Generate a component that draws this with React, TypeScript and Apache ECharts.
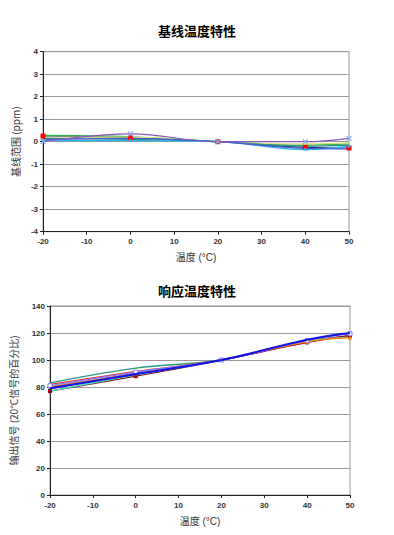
import React, { useEffect, useRef } from "react";
import * as echarts from "echarts";

const temps = [-20, 0, 20, 40, 50];

const baseTitle = "基线温度特性";
const baseYName = "基线范围 (ppm)";
const respTitle = "响应温度特性";
const respYName = "输出信号 (20°C信号的百分比)";
const xName = "温度 (°C)";

const baseNames = ["B1", "B2", "B3", "B4", "B5", "B6", "B7"];
const baseColors = ["#8a55b8", "#1c2a8c", "#2fb24e", "#d2e07a", "#2a8a8a", "#22b8e6", "#4a5fd0"];
const baseValues = [
  [0.0, 0.35, 0, 0.0, 0.15],
  [0.25, 0.18, 0, -0.25, -0.28],
  [0.28, 0.22, 0, -0.15, -0.1],
  [0.2, 0.2, 0, -0.1, -0.05],
  [0.15, 0.1, 0, -0.2, -0.15],
  [0.05, 0.05, 0, -0.35, -0.2],
  [0.1, 0.15, 0, -0.3, -0.32],
];

const respNames = ["R1", "R2", "R3", "R4", "R5", "R6", "R7", "R8"];
const respColors = ["#2a9a8a", "#e03030", "#e020e0", "#8b1010", "#40e0c0", "#ff8000", "#8080ff", "#1414e6"];
const respValues = [
  [83, 94, 100, 114, 117],
  [82, 91.5, 100, 114, 118],
  [80, 90, 100, 113, 118],
  [77, 88, 100, 113, 118],
  [77, 89, 100, 114, 117],
  [80, 90, 100, 113.5, 116.5],
  [81, 91, 100, 114.5, 119.5],
  [79, 89.5, 100, 115, 120],
];

const xPath = "path://M0,0L10,10M10,0L0,10";

export default function App() {
  const ref = useRef<HTMLDivElement>(null);
  useEffect(() => {
    if (!ref.current) return;
    const chart = echarts.init(ref.current, null, { renderer: "svg" });
    const axisLabel = { color: "#333", fontSize: 8, fontWeight: "bold", fontFamily: "Liberation Sans, Arial" };
    const mkX = (gi: number) => ({
      type: "value",
      gridIndex: gi,
      min: -20,
      max: 50,
      interval: 10,
      axisLine: { onZero: false, lineStyle: { color: "#222", width: 1 } },
      axisTick: { show: true, inside: false, length: 3, lineStyle: { color: "#222" } },
      axisLabel: { ...axisLabel, margin: 6 },
      splitLine: { show: false },
      name: xName,
      nameLocation: "middle",
      nameGap: 21,
      nameTextStyle: { color: "#333", fontSize: 10, fontFamily: "Liberation Sans, Noto Sans CJK SC" },
    });
    const series: any[] = [];
    baseValues.forEach((vals, i) => {
      let symbol = "none";
      let symbolSize = 0;
      let itemColor = baseColors[i];
      if (i === 0) { symbol = xPath; symbolSize = 5; itemColor = "#88b0e8"; }
      if (i === 1) { symbol = "rect"; symbolSize = 5; itemColor = "#ff0000"; }
      if (i === 5) { symbol = "circle"; symbolSize = 3; itemColor = "#22b8e6"; }
      series.push({
        name: baseNames[i],
        type: "line",
        xAxisIndex: 0,
        yAxisIndex: 0,
        smooth: 0.4,
        data: temps.map((t, k) => [t, vals[k]]),
        lineStyle: { color: baseColors[i], width: 1.2 },
        symbol,
        symbolSize,
        showSymbol: symbol !== "none",
        itemStyle: { color: itemColor, borderColor: itemColor, borderWidth: i === 0 ? 1.2 : 0 },
        z: i === 0 ? 4 : 2,
      });
    });
    respValues.forEach((vals, i) => {
      let symbol = "none";
      let symbolSize = 0;
      let itemColor = respColors[i];
      if (i === 3) { symbol = "rect"; symbolSize = 4; }
      if (i === 5) { symbol = "triangle"; symbolSize = 4; }
      if (i === 6) { symbol = "rect"; symbolSize = 4; itemColor = "#ffffff"; }
      series.push({
        name: respNames[i],
        type: "line",
        xAxisIndex: 1,
        yAxisIndex: 1,
        smooth: 0.4,
        data: temps.map((t, k) => [t, vals[k]]),
        lineStyle: { color: respColors[i], width: i === 7 ? 2.2 : 1.3 },
        symbol,
        symbolSize,
        showSymbol: symbol !== "none",
        itemStyle: { color: itemColor, borderColor: i === 6 ? "#8080ff" : itemColor, borderWidth: i === 6 ? 1 : 0 },
        z: i === 7 ? 3 : 2,
      });
    });
    const mkY = (gi: number, min: number, max: number, interval: number, name: string, gap: number) => ({
      type: "value",
      gridIndex: gi,
      min,
      max,
      interval,
      axisLine: { show: true, onZero: false, lineStyle: { color: "#222" } },
      axisTick: { show: true, length: 3, lineStyle: { color: "#222" } },
      axisLabel: { ...axisLabel, margin: 5 },
      splitLine: { show: true, lineStyle: { color: "#999", width: 1 } },
      name,
      nameLocation: "middle",
      nameGap: gap,
      nameTextStyle: { color: "#333", fontSize: 10, fontFamily: "Noto Sans CJK SC" },
    });
    chart.setOption({
      animation: false,
      backgroundColor: "#ffffff",
      title: [
        { text: baseTitle, left: "center", top: 19, textStyle: { fontSize: 13, fontWeight: "bold", color: "#000", fontFamily: "Noto Sans CJK SC" } },
        { text: respTitle, left: "center", top: 279, textStyle: { fontSize: 13, fontWeight: "bold", color: "#000", fontFamily: "Noto Sans CJK SC" } },
      ],
      grid: [
        { left: 43, right: 45, top: 51.7, height: 180, show: true, borderColor: "#999", borderWidth: 1, backgroundColor: "transparent" },
        { left: 44, right: 44, top: 306, height: 189, show: true, borderColor: "#999", borderWidth: 1, backgroundColor: "transparent" },
      ],
      xAxis: [mkX(0), mkX(1)],
      yAxis: [
        mkY(0, -4, 4, 1, baseYName, 19),
        mkY(1, 0, 140, 20, respYName, 32),
      ],
      series,
    });
    return () => chart.dispose();
  }, []);
  return (
    <div
      ref={ref}
      style={{ position: "absolute", left: 0, top: 0, width: 394, height: 535, background: "#fff" }}
    />
  );
}
